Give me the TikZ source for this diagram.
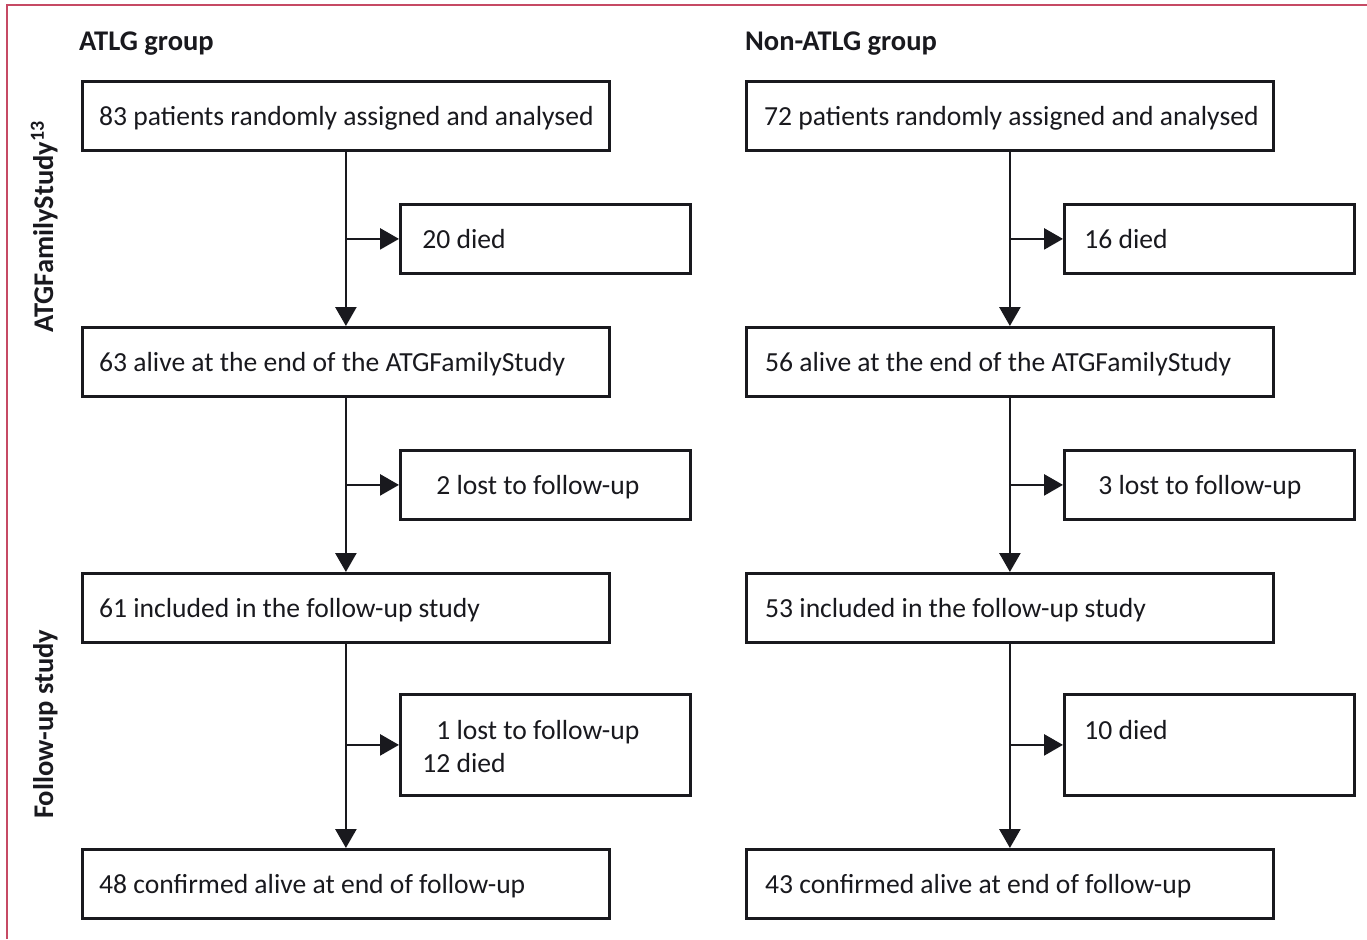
\documentclass[tikz,border=0pt]{standalone}
\usepackage{fontspec}
\setmainfont{Carlito}
\usetikzlibrary{arrows.meta,calc}
\definecolor{framecol}{RGB}{198,74,100}
\definecolor{inkcol}{RGB}{25,25,30}
\newcommand\lnum[1]{\makebox[1.02em][r]{#1}}
\begin{document}
\begin{tikzpicture}[x=1pt,y=-1pt,
  mainbox/.style={draw=inkcol, line width=2.8pt, minimum width=527pt, minimum height=69pt, anchor=north west, inner sep=0pt},
  sidebox/.style={draw=inkcol, line width=2.8pt, minimum width=290pt, minimum height=69pt, anchor=north west, inner sep=0pt},
  txt/.style={anchor=base west, inner sep=0pt, text=inkcol, align=left, font=\fontsize{27.6}{33}\selectfont},
  head/.style={anchor=base west, inner sep=0pt, text=inkcol, font=\bfseries\fontsize{28.5}{33}\selectfont},
  conn/.style={draw=inkcol, line width=2.6pt},
  arr/.style={conn, -{Triangle[length=19pt,width=21pt]}}]
\useasboundingbox (0,0) rectangle (1367,939);
\fill[white] (0,0) rectangle (1367,939);
\draw[framecol, line width=1.5pt] (7,939) -- (7,5) -- (1367,5);

% side labels
\node[head, rotate=90] (labA) at (53,333) {ATGFamilyStudy\textsuperscript{13}};
\node[head, rotate=90] (labB) at (53,819) {Follow-up study};

% headers
\node[head] (hA) at (79,51) {ATLG group};
\node[head] (hB) at (745,51) {Non-ATLG group};

% left column
\node[mainbox] (a1) at (81,80) {};
\node[sidebox] (s1) at (399,203) {};
\node[mainbox] (a2) at (81,326) {};
\node[sidebox] (s2) at (399,449) {};
\node[mainbox] (a3) at (81,572) {};
\node[sidebox, minimum height=101pt] (s3) at (399,693) {};
\node[mainbox] (a4) at (81,848) {};

\node[txt] (ta1) at ($(a1.west)+(18,9.5)$) {83 patients randomly assigned and analysed};
\node[txt] (ts1) at ($(s1.west)+(23,9.5)$) {\lnum{20} died};
\node[txt] (ta2) at ($(a2.west)+(18,9.5)$) {63 alive at the end of the ATGFamilyStudy};
\node[txt] (ts2) at ($(s2.west)+(23,9.5)$) {\lnum{2} lost to follow-up};
\node[txt] (ta3) at ($(a3.west)+(18,9.5)$) {61 included in the follow-up study};
\node[txt] (ts3) at ($(s3.west)+(23,27.5)$) {\lnum{1} lost to follow-up\\\lnum{12} died};
\node[txt] (ta4) at ($(a4.west)+(18,9.5)$) {48 confirmed alive at end of follow-up};

\draw[arr] (a1.south) -- (a2.north);
\draw[arr] (a2.south) -- (a3.north);
\draw[arr] (a3.south) -- (a4.north);
\draw[arr] (a1.south |- s1.west) -- (s1.west);
\draw[arr] (a2.south |- s2.west) -- (s2.west);
\draw[arr] (a3.south |- s3.west) -- (s3.west);

% right column
\node[mainbox] (b1) at (745,80) {};
\node[sidebox] (r1) at (1063,203) {};
\node[mainbox] (b2) at (745,326) {};
\node[sidebox] (r2) at (1063,449) {};
\node[mainbox] (b3) at (745,572) {};
\node[sidebox, minimum height=101pt] (r3) at (1063,693) {};
\node[mainbox] (b4) at (745,848) {};

\node[txt] (tb1) at ($(b1.west)+(19,9.5)$) {72 patients randomly assigned and analysed};
\node[txt] (tr1) at ($(r1.west)+(21,9.5)$) {\lnum{16} died};
\node[txt] (tb2) at ($(b2.west)+(20,9.5)$) {56 alive at the end of the ATGFamilyStudy};
\node[txt] (tr2) at ($(r2.west)+(21,9.5)$) {\lnum{3} lost to follow-up};
\node[txt] (tb3) at ($(b3.west)+(20,9.5)$) {53 included in the follow-up study};
\node[txt] (tr3) at ($(r3.west)+(21,-5.5)$) {\lnum{10} died};
\node[txt] (tb4) at ($(b4.west)+(20,9.5)$) {43 confirmed alive at end of follow-up};

\draw[arr] (b1.south) -- (b2.north);
\draw[arr] (b2.south) -- (b3.north);
\draw[arr] (b3.south) -- (b4.north);
\draw[arr] (b1.south |- r1.west) -- (r1.west);
\draw[arr] (b2.south |- r2.west) -- (r2.west);
\draw[arr] (b3.south |- r3.west) -- (r3.west);
\end{tikzpicture}
\end{document}
